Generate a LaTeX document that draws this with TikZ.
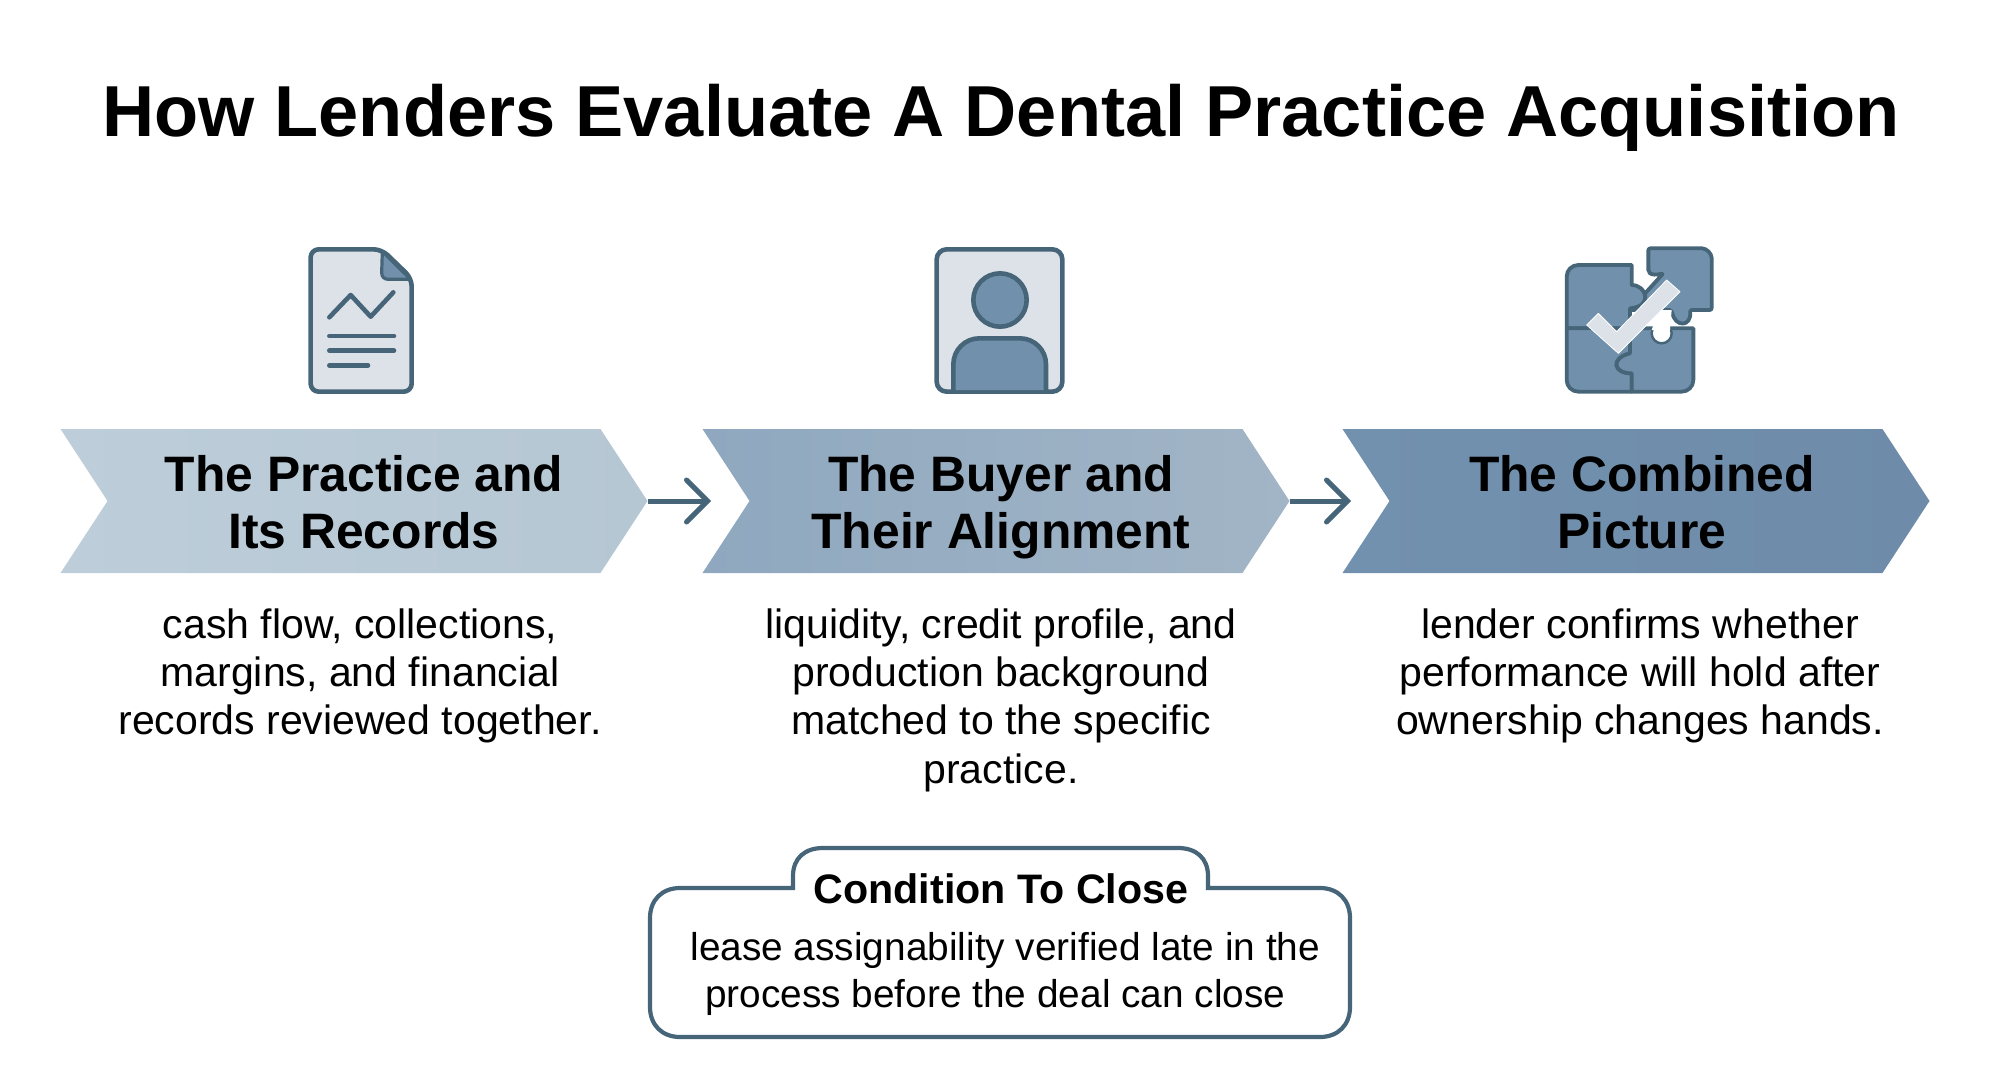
\documentclass[tikz,border=0pt]{standalone}
\usepackage{fontspec}
\setmainfont{Liberation Sans}
\setsansfont{Liberation Sans}
\usetikzlibrary{arrows.meta,shapes.symbols}

\definecolor{inkblue}{HTML}{466579}
\definecolor{iconfill}{HTML}{7090AC}
\definecolor{paper}{HTML}{DDE2E8}

\tikzset{
  chevron/.style={signal, signal from=west, signal to=east, signal pointer angle=113.7,
    minimum width=293.5pt, minimum height=72pt, inner sep=0pt, draw=none},
  heading/.style={font=\fontsize{24.9}{28.5}\sffamily\bfseries\selectfont, align=center, inner sep=0pt, anchor=north},
  bodytext/.style={font=\fontsize{20.5}{24.2}\sffamily\selectfont, align=center, inner sep=0pt, anchor=north},
  flowarrow/.style={-{Straight Barb[length=10.5pt,width=21pt,line cap=round]}, line width=2.5pt, draw=inkblue, shorten >=19pt},
  iconline/.style={line width=2.3pt, draw=inkblue, line cap=round, line join=round},
  piece/.style={line width=1.9pt, draw=inkblue, fill=iconfill, line join=round},
  icon/.style={x=0.16667pt, y=-0.16667pt}
}

\begin{document}
\begin{tikzpicture}[x=0.5pt, y=-0.5pt, nodes = {font=\sffamily}]
  \useasboundingbox (0,0) rectangle (1999,1092);

  \node[font=\fontsize{36.1}{40}\sffamily\bfseries\selectfont, inner sep=0pt] (title) at (1001,118)
    {How Lenders Evaluate A Dental Practice Acquisition};

  % Chevrons with their heading and text
  \foreach \n/\cx/\hx/\bx/\lcol/\rcol/\headtxt/\bodytxt in {
      1/354/364/360/BDCEDA/B6C7D4/{The Practice and\\Its Records}/{cash flow, collections,\\margins, and financial\\records reviewed together.},
      2/996/1001/1001/8FA8BF/A2B5C6/{The Buyer and\\Their Alignment}/{liquidity, credit profile, and\\production background\\matched to the specific\\practice.},
      3/1636/1642/1640/7291AE/6E8CA9/{The Combined\\Picture}/{lender confirms whether\\performance will hold after\\ownership changes hands.}%
    } {
      \definecolor{cleft}{HTML}{\lcol}
      \definecolor{cright}{HTML}{\rcol}
      \node[chevron, left color=cleft, right color=cright] (chev\n) at (\cx,501) {};
      \node[heading] (head\n) at (\hx,455) {\headtxt};
      \node[bodytext] (body\n) at (\bx,608) {\bodytxt};
    };

  \draw[flowarrow] (chev1.east) -- (chev2.west);
  \draw[flowarrow] (chev2.east) -- (chev3.west);

  % Document icon
  \begin{scope}[shift={(280,230)}, icon]
    \draw[iconline, fill=paper, rounded corners=4pt] (92,58) -- (305,58) -- (395,145) -- (395,485) -- (92,485) -- cycle;
    \draw[iconline, fill=iconfill, line width=1.6pt] (307,64) -- (392,148) -- (325,148) .. controls (312,148) and (305,140) .. (305,128) -- cycle;
    \draw[iconline] (148,262) -- (212,195) -- (272,260) -- (340,187);
    \draw[iconline] (148,318) -- (342,318);
    \draw[iconline] (148,362) -- (342,362);
    \draw[iconline] (148,406) -- (264,406);
  \end{scope}

  % Person icon
  \begin{scope}[shift={(910,230)}, icon]
    \draw[iconline, fill=paper, rounded corners=5pt] (80,58) rectangle (457,485);
    \draw[iconline, fill=iconfill] (270,210) circle (80);
    \draw[iconline, fill=iconfill, rounded corners=13pt] (130,480) -- (130,325) -- (408,325) -- (408,480);
  \end{scope}

  % Puzzle icon
  \begin{scope}[shift={(1550,230)}, icon]
    \draw[piece, rounded corners=1pt] (295,125) -- (295,55) -- (450,55) to[out=0,in=90] (485,90) -- (485,240) -- (420,240)
      .. controls (425,290) and (375,295) .. (365,240) -- (240,240) -- (340,130) .. controls (320,135) and (305,135) .. cycle;
    \draw[piece] (50,295) -- (50,140) to[out=90,in=180] (85,105) -- (245,105) -- (245,165)
      .. controls (290,165) and (310,230) .. (240,235) -- (240,295) -- cycle;
    \draw[piece] (50,295) -- (240,295) -- (240,370) .. controls (180,385) and (190,430) .. (245,430) -- (245,485)
      -- (85,485) to[out=180,in=270] (50,450) -- cycle;
    \draw[piece] (245,485) -- (245,430) .. controls (190,430) and (180,385) .. (240,370) -- (240,295) -- (430,295) -- (430,450)
      to[out=270,in=0] (395,485) -- cycle;
    \filldraw[fill=white, draw=inkblue, line width=1.2pt] (335,310) circle (30);
    \fill[white] (325,240) -- (365,240) -- (360,300) -- (305,300) -- cycle;
    \draw[fill=paper, draw=white, line width=0.4pt, line join=round] (110,285) -- (145,250) -- (200,305) -- (350,150) -- (390,185) -- (205,370) -- cycle;
  \end{scope}

  % Callout with its tab
  \draw[line width=2.1pt, draw=inkblue, fill=white] (650,918) .. controls (650,900) and (662,888) .. (680,888) -- (793,888) -- (793,876)
    .. controls (793,858) and (805,848) .. (823,848) -- (1178,848) .. controls (1196,848) and (1208,858) .. (1208,876) -- (1208,888)
    -- (1320,888) .. controls (1338,888) and (1350,900) .. (1350,918) -- (1350,1007) .. controls (1350,1025) and (1338,1037) .. (1320,1037)
    -- (680,1037) .. controls (662,1037) and (650,1025) .. (650,1007) -- cycle;
  \node[font=\fontsize{20.6}{25}\sffamily\bfseries\selectfont, inner sep=0pt] (closetitle) at (1001,889) {Condition To Close};
  \node[bodytext, font=\fontsize{19.4}{23.7}\sffamily\selectfont, align=left, anchor=west] (closebody) at (690,974)
    {lease assignability verified late in the\\\hspace*{7.4pt}process before the deal can close};
\end{tikzpicture}
\end{document}
